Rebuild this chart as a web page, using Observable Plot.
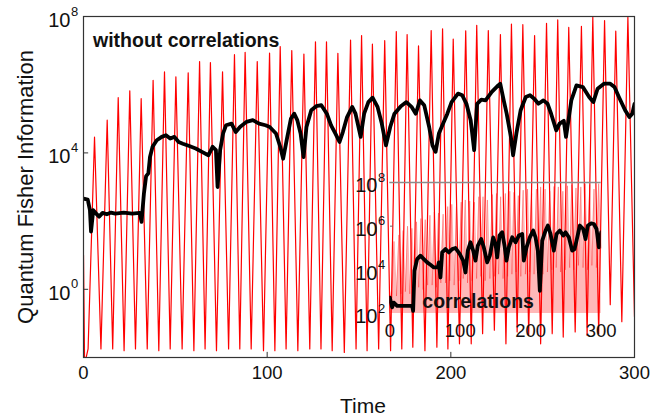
<!DOCTYPE html>
<html><head><meta charset="utf-8">
<script src="https://cdn.jsdelivr.net/npm/d3@7"></script>
<script src="https://cdn.jsdelivr.net/npm/@observablehq/plot@0.6"></script>
<style>
body{margin:0;background:#fff}
#wrap{position:relative;width:665px;height:418px}
#inset{position:absolute;left:340px;top:165px}
</style>
</head><body><div id="wrap"><div id="main"></div><div id="inset"></div></div>
<script>
// ---- main panel: red oscillation (without correlations), log10 values ----
const redStartT = [0, 0.6];
const redStartLog = [1.0, -2.2];
const redTroughT = [2.5, 9.5, 15.9, 22.1, 28.3, 34.7, 41.0, 47.2, 53.7, 60.1,
  66.2, 72.4, 79.0, 85.1, 91.3, 98.0, 104.2, 110.3, 116.7, 123.2,
  129.3, 135.4, 142.0, 148.4, 154.4, 160.7, 167.2, 173.3, 179.3, 185.9,
  192.4, 198.4, 204.7, 211.1, 217.3, 223.7, 230.0, 236.1, 242.4, 248.9,
  255.2, 261.2, 267.7, 274.2, 280.5, 286.8, 293.1];
const redTroughLog = [-1.75, -1.75, -1.75, -1.8, -1.75, -1.75, -1.8, -1.75, -1.75, -1.8,
  -1.75, -1.8, -1.75, -1.75, -1.75, -1.8, -1.8, -1.75, -1.8, -1.75,
  -1.75, -1.8, -1.85, -1.75, -1.8, -1.75, -1.8, -1.75, -1.7, -1.8,
  -1.7, -1.75, -1.6, -1.6, -1.3, -1.2, -1.6, -1.25, -1.35, -1.6,
  -1.3, -1.4, -1.25, -1.35, -1.3, -0.45, -0.95];
const redPeakT = [6.0, 12.9, 18.9, 25.2, 31.4, 37.9, 44.1, 50.3, 57.0, 63.2,
  69.1, 75.7, 82.2, 88.0, 94.6, 101.3, 107.1, 113.4, 120.0, 126.3,
  132.3, 138.5, 145.4, 151.4, 157.3, 164.0, 170.3, 176.2, 182.4, 189.3,
  195.5, 201.3, 208.1, 214.1, 220.4, 227.0, 233.0, 239.2, 245.6, 252.1,
  258.2, 264.2, 271.1, 277.3, 283.7, 289.8, 296.4];
const redPeakLog = [4.46, 4.96, 5.62, 5.82, 5.59, 6.13, 6.38, 6.23, 6.35, 6.68,
  6.65, 6.38, 6.88, 6.95, 6.68, 6.93, 7.12, 7.0, 6.9, 7.26,
  7.26, 6.92, 7.31, 7.44, 7.19, 7.29, 7.56, 7.47, 7.14, 7.59,
  7.64, 7.34, 7.58, 7.74, 7.59, 7.47, 7.78, 7.76, 7.44, 7.80,
  7.90, 7.68, 7.71, 7.98, 7.88, 7.57, 7.98];
const redEndT = [300];
const redEndLog = [-0.8];

// ---- main panel: black curve ----
const blackT = [0, 2.3, 3.5, 4.1, 5.3, 6.9, 8.5, 10.4, 12.7, 15, 17.3, 21.9, 26.5, 30.6, 31.6, 32.9, 34.1, 35.3, 36.2, 37.6,
  39.9, 42.6, 44.9, 47.2, 49.5, 51.8, 54.1, 57.6, 61.1, 64.5, 68, 70.3, 72.1, 73, 74.4, 76, 77.6, 80.6, 82.9, 85.2,
  88.7, 92.2, 95.6, 99.1, 101.4, 104.8, 107.1, 108.7, 110.6, 112.9, 114.7, 116.4, 118.2, 119.8, 121.4, 124, 126.7, 129.5, 132.5, 134.8,
  137.1, 139.4, 141.2, 143.5, 146.3, 148.1, 150.9, 152.8, 155.1, 157.4, 160.1, 162.4, 164.7, 167, 169.3, 172.8, 175.8, 178.6, 180.9, 183.2,
  185.5, 188.2, 190, 191.7, 193.5, 195.8, 198.1, 200.4, 203.9, 206.2, 208.5, 210.8, 212.7, 214.3, 216.6, 218.9, 222.3, 225.8, 226.9, 228.8,
  230.4, 232.7, 233.9, 235.7, 238, 240.8, 243.1, 245.4, 247.7, 250.4, 252.7, 254.6, 257.4, 259.2, 261.5, 262.7, 263.8, 265.6, 268.4, 271.9,
  275.3, 277.6, 279.9, 283.4, 286.8, 289.1, 291.5, 294.9, 297.2, 298.8, 300];
const blackLog = [2.66, 2.63, 2.32, 1.69, 2.32, 2.22, 2.13, 2.24, 2.2, 2.25, 2.22, 2.25, 2.22, 2.24, 1.98, 2.81, 3.32, 3.4, 3.88, 4.18,
  4.37, 4.47, 4.52, 4.42, 4.47, 4.32, 4.27, 4.2, 4.13, 4.03, 3.93, 4.18, 4.08, 3.0, 4.08, 4.57, 4.81, 4.86, 4.61, 4.76,
  4.91, 4.96, 4.86, 4.81, 4.76, 4.57, 4.18, 3.83, 4.37, 5.0, 5.15, 4.96, 4.57, 3.88, 4.76, 5.25, 5.37, 5.4, 5.15, 4.81,
  4.57, 4.32, 4.61, 5.05, 5.35, 5.15, 4.47, 5.15, 5.49, 5.62, 5.35, 4.86, 4.22, 4.76, 5.15, 5.37, 5.49, 5.35, 5.15, 5.54,
  5.40, 4.76, 4.22, 4.03, 4.57, 4.86, 5.15, 5.49, 5.74, 5.69, 5.44, 4.96, 4.08, 5.44, 5.56, 5.54, 5.79, 5.98, 6.03, 5.54,
  5.15, 4.47, 3.93, 4.57, 5.25, 5.64, 5.69, 5.59, 5.44, 5.54, 5.44, 5.15, 4.66, 4.86, 4.94, 4.47, 4.86, 5.54, 5.98, 5.93,
  5.64, 5.49, 5.88, 6.03, 6.03, 5.93, 5.64, 5.25, 5.05, 5.15, 5.44];

// ---- inset: correlations ----
const insetOscStartT = [0];
const insetOscStartLog = [3.0];
const insetTroughLog = [2.6, 2.8, 2.9, 3.0, 2.9, 3.1, 3.2, 3.1, 3.3, 3.3,
  3.2, 3.4, 3.4, 3.5, 3.3, 3.5, 3.6, 3.4, 3.5, 3.6,
  3.7, 3.5, 3.6, 3.7, 3.8, 3.6, 3.7, 3.8, 3.9, 3.7,
  3.8, 3.9, 3.8, 4.0, 3.8, 3.9, 4.0, 4.1, 3.9, 4.0,
  4.1, 4.0, 4.2, 4.1, 4.0, 4.2, 4.1];
const insetPeakLog = [5.3, 5.6, 5.8, 6.0, 5.9, 6.2, 6.35, 6.3, 6.5, 6.65,
  6.6, 6.55, 6.9, 7.0, 6.9, 7.1, 7.2, 7.15, 7.1, 7.35,
  7.35, 7.2, 7.45, 7.5, 7.35, 7.5, 7.6, 7.55, 7.4, 7.65,
  7.7, 7.5, 7.7, 7.8, 7.7, 7.6, 7.82, 7.8, 7.6, 7.85,
  7.9, 7.75, 7.8, 7.95, 7.9, 7.7, 7.95];
const insetOscEndT = [300];
const insetOscEndLog = [5.0];
const insetBlackT = [0, 3.3, 5.7, 10.4, 19.9, 31.7, 33.1, 35, 38.8, 43.5, 48.3, 53, 57.7, 62.5, 68.1, 69.6, 71.9, 74.3, 79, 83.8,
  88.5, 93.2, 99.4, 104.1, 107.4, 110.7, 114.5, 118.3, 121.6, 124.9, 129.7, 133.4, 138.2, 142, 146.7, 150, 152.4, 155.7, 159.5, 162.8,
  165.6, 168.9, 173.7, 178.4, 183.1, 187.9, 190.2, 194, 198.7, 203.5, 206.8, 210.1, 212.9, 216.3, 221, 224.3, 228.1, 232.8, 236.6, 241.3,
  246.1, 249.4, 254.1, 258.8, 262.2, 265, 269.7, 274.5, 277.8, 281.1, 285.8, 289.6, 293.4, 296.7, 300];
const insetBlackLog = [2.73, 2.28, 2.5, 2.35, 2.35, 2.35, 2.12, 3.96, 4.49, 4.65, 4.49, 4.34, 4.23, 4.11, 4.11, 4.34, 3.65, 4.8, 4.95, 4.8,
  4.95, 5.0, 4.72, 4.42, 3.88, 4.88, 5.26, 4.88, 4.42, 5.11, 5.41, 5.03, 4.34, 4.65, 5.49, 5.18, 4.57, 5.57, 5.72, 5.11,
  4.42, 5.03, 5.49, 5.26, 5.57, 5.64, 4.42, 5.03, 5.49, 5.8, 5.49, 4.88, 3.04, 5.34, 5.8, 6.03, 5.64, 4.88, 5.64, 5.8,
  5.57, 5.72, 5.49, 4.88, 4.95, 5.34, 6.03, 5.87, 5.41, 6.03, 6.13, 6.1, 5.87, 5.03, 5.72];

// ---- ticks ----
const xTickValues = [0, 100, 200, 300];
const mainYTicks = [1e0, 1e4, 1e8];
const mainYExps = ["0", "4", "8"];
const insetYTicks = [1e2, 1e4, 1e6, 1e8];
const insetYExps = ["2", "4", "6", "8"];

// build tables
const pts = (T, L) => T.map((t, i) => ({t, v: Math.pow(10, L[i])}));
function interleave(troughT, troughL, peakT, peakL) {
  const out = [];
  for (let i = 0; i < peakT.length; i++) {
    out.push({t: troughT[i], v: Math.pow(10, troughL[i])});
    out.push({t: peakT[i], v: Math.pow(10, peakL[i])});
  }
  return out;
}
const redData = [...pts(redStartT, redStartLog),
  ...interleave(redTroughT, redTroughLog, redPeakT, redPeakLog),
  ...pts(redEndT, redEndLog)];
const blackData = pts(blackT, blackLog);
const insetOsc = [...pts(insetOscStartT, insetOscStartLog),
  ...interleave(redTroughT, insetTroughLog, redPeakT, insetPeakLog),
  ...pts(insetOscEndT, insetOscEndLog)];
const insetBlack = pts(insetBlackT, insetBlackLog);

const FONT = "'Liberation Sans', Arial, Helvetica, sans-serif";
const T = (o) => Object.assign({lineAnchor: "middle"}, o);

const main = Plot.plot({
  width: 665, height: 418,
  marginLeft: 83, marginRight: 31, marginTop: 16, marginBottom: 61,
  x: {domain: [0, 300], axis: null},
  y: {type: "log", domain: [0.01, 1e8], axis: null},
  style: {fontFamily: FONT, background: "white", color: "#111"},
  marks: [
    Plot.line(redData, {x: "t", y: "v", stroke: "#ff0000", strokeWidth: 1.2, clip: true}),
    Plot.line(blackData, {x: "t", y: "v", stroke: "#000", strokeWidth: 3.8, strokeLinejoin: "round", clip: true}),
    Plot.ruleY(mainYTicks.slice(0, 2), {y: d => d, x1: 0, x2: 2.8, stroke: "#333"}),
    Plot.ruleX(xTickValues.slice(1, 3), {x: d => d, y1: 0.01, y2: Math.pow(10, -1.85), stroke: "#333"}),
    Plot.frame({stroke: "#333", strokeWidth: 1.2}),
    Plot.text(xTickValues, T({x: d => d, frameAnchor: "bottom", dy: 16, textAnchor: "middle", fontSize: 18.5})),
    Plot.text(mainYTicks, T({y: d => d, text: () => "10", frameAnchor: "left", dx: -13, dy: 4, textAnchor: "end", fontSize: 20})),
    Plot.text(mainYTicks, T({y: d => d, text: (d, i) => mainYExps[i], frameAnchor: "left", dx: -12.5, dy: -5, textAnchor: "start", fontSize: 13})),
    Plot.text(["Time"], T({frameAnchor: "bottom", dx: 4, dy: 48.5, textAnchor: "middle", fontSize: 21})),
    Plot.text(["Quantum Fisher Information"], T({frameAnchor: "left", dx: -58, rotate: -90, textAnchor: "middle", fontSize: 22})),
    Plot.text(["without correlations"], T({frameAnchor: "top-left", dx: 9.5, dy: 24, textAnchor: "start", fontWeight: "bold", fontSize: 19.5}))
  ]
});
document.getElementById("main").append(main);

const inset = Plot.plot({
  width: 290, height: 185,
  marginLeft: 49.3, marginRight: 29.3, marginTop: 17, marginBottom: 37,
  x: {domain: [0, 300], axis: null},
  y: {type: "log", domain: [1e2, 1e8], axis: null},
  style: {fontFamily: FONT, background: "none", color: "#111", overflow: "visible"},
  marks: [
    Plot.areaY(insetOsc, {x: "t", y1: () => 100, y2: "v", fill: "#ff0000", fillOpacity: 0.28}),
    Plot.line(insetOsc, {x: "t", y: "v", stroke: "#ff0000", strokeOpacity: 0.3, strokeWidth: 1}),
    Plot.ruleY([1e8], {stroke: "#8c8c8c", strokeWidth: 1.5}),
    Plot.ruleY([1e6], {x1: 1, x2: 5, stroke: "#666"}),
    Plot.line(insetBlack, {x: "t", y: "v", stroke: "#000", strokeWidth: 3.8, strokeLinejoin: "round", clip: true}),
    Plot.text(["correlations"], T({frameAnchor: "bottom-left", dx: 32.5, dy: -12, textAnchor: "start", fontWeight: "bold", fontSize: 19.5})),
    Plot.text(xTickValues, T({x: d => d, frameAnchor: "bottom", dy: 17.7, textAnchor: "middle", fontSize: 18.5})),
    Plot.text(insetYTicks, T({y: d => d, text: () => "10", frameAnchor: "left", dx: -12.3, dy: 3.5, textAnchor: "end", fontSize: 20})),
    Plot.text(insetYTicks, T({y: d => d, text: (d, i) => insetYExps[i], frameAnchor: "left", dx: -11.8, dy: -5, textAnchor: "start", fontSize: 13}))
  ]
});
document.getElementById("inset").append(inset);
</script></body></html>
